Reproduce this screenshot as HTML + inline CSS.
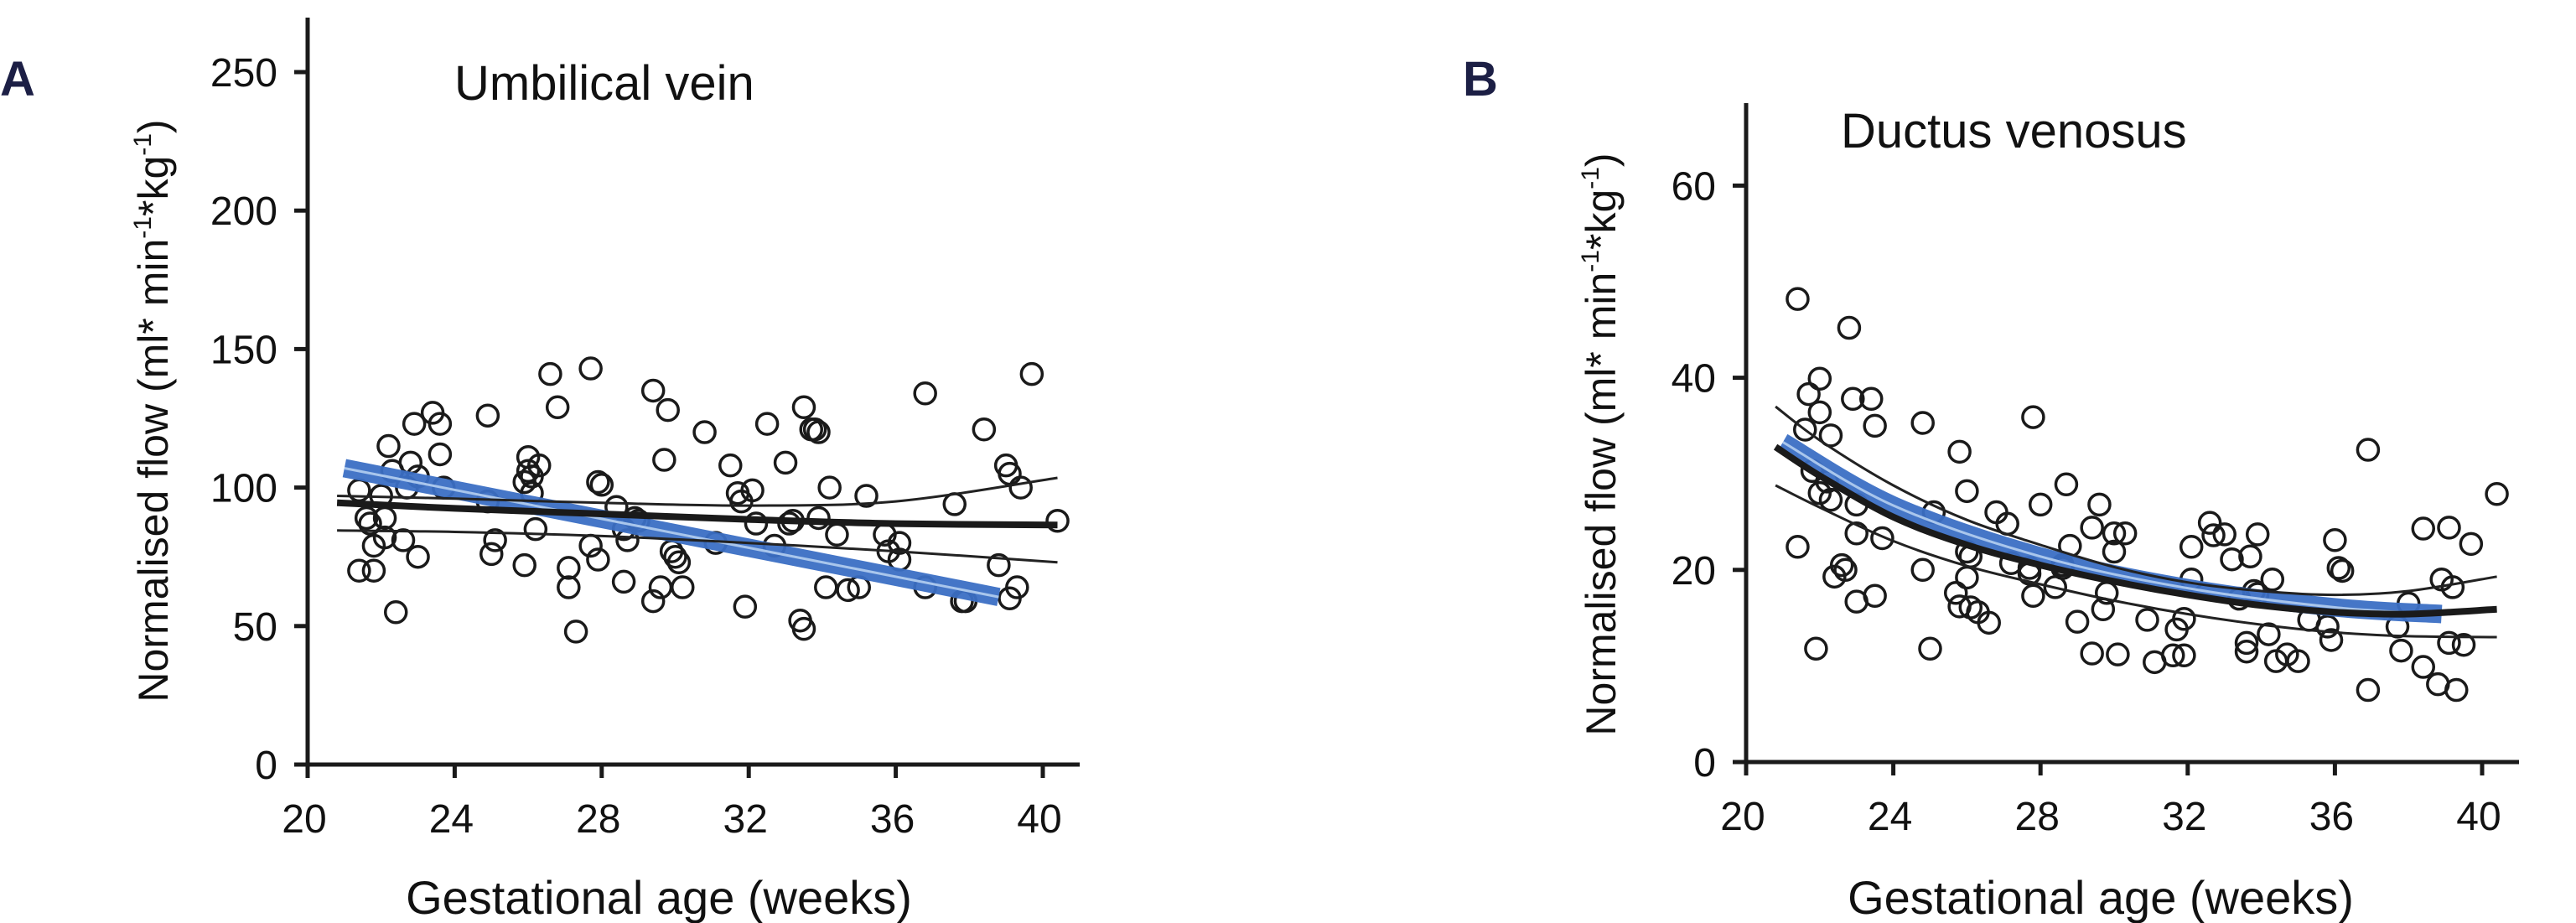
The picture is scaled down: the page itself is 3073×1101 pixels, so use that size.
<!DOCTYPE html>
<html><head><meta charset="utf-8"><style>
html,body{margin:0;padding:0;background:#fff;}
svg{display:block;font-family:"Liberation Sans",sans-serif;}
</style></head><body>
<svg id="fig" width="3073" height="1101" viewBox="0 0 3073 1101" xmlns="http://www.w3.org/2000/svg">
<rect width="3073" height="1101" fill="#fff"/>
<text x="0" y="114" font-size="58" font-weight="bold" fill="#1c1f45">A</text>
<text x="1745" y="114" font-size="58" font-weight="bold" fill="#1c1f45">B</text>
<text x="542" y="119" font-size="58" fill="#111">Umbilical vein</text>
<text x="2196" y="176" font-size="58" fill="#111">Ductus venosus</text>
<text x="786" y="1090" font-size="56" text-anchor="middle" fill="#111">Gestational age (weeks)</text>
<text x="2506" y="1090" font-size="56" text-anchor="middle" fill="#111">Gestational age (weeks)</text>
<text transform="translate(200,490) rotate(-90)" font-size="50" text-anchor="middle" fill="#111">Normalised flow (ml* min<tspan font-size="30" dy="-20">-1</tspan><tspan dy="20">*kg</tspan><tspan font-size="30" dy="-20">-1</tspan><tspan dy="20">)</tspan></text>
<text transform="translate(1927,530) rotate(-90)" font-size="50" text-anchor="middle" fill="#111">Normalised flow (ml* min<tspan font-size="30" dy="-20">-1</tspan><tspan dy="20">*kg</tspan><tspan font-size="30" dy="-20">-1</tspan><tspan dy="20">)</tspan></text>
<g id="ga"></g>
<g id="gb"></g>
</svg>
<script>
// Chart A data
const aXTicks = [20, 24, 28, 32, 36, 40];
const aYTicks = [0, 50, 100, 150, 200, 250];
const aWeeks = [21.4,21.4,21.8,21.6,21.7,22.0,22.1,21.8,22.1,22.2,22.3,22.4,22.6,22.7,22.8,22.9,23.0,23.0,23.4,23.6,23.6,23.7,24.9,24.9,25.0,25.1,25.9,25.9,26.0,26.0,26.1,26.1,26.2,26.3,26.6,26.8,27.1,27.1,27.3,27.7,27.7,27.9,27.9,28.0,28.4,28.6,28.6,28.7,28.9,29.0,29.4,29.4,29.6,29.7,29.8,29.9,30.0,30.1,30.2,30.8,31.1,31.5,31.7,31.8,31.9,32.1,32.2,32.5,32.7,33.0,33.1,33.2,33.4,33.5,33.5,33.7,33.8,33.9,33.9,34.1,34.2,34.4,34.7,35.0,35.2,35.7,35.8,36.1,36.1,36.8,36.8,37.6,37.8,37.9,38.4,38.8,39.0,39.1,39.1,39.3,39.4,39.7,40.4];
const aFlow = [99,70,70,89,87,97,89,79,82,115,106,55,81,100,109,123,104,75,127,123,112,100,126,95,76,81,72,102,111,106,104,98,85,108,141,129,71,64,48,143,79,74,102,101,93,66,85,81,89,88,135,59,64,110,128,77,75,73,64,120,80,108,98,95,57,99,87,123,79,109,87,88,52,49,129,121,121,120,89,64,100,83,63,64,97,83,77,74,80,134,64,94,59,59,121,72,108,105,60,64,100,141,88];
const aFitWeeks = [20.8, 24, 28, 32, 36, 40.4];
const aMean = [94.5, 92.5, 90.5, 88.5, 87, 86.5];
const aUpper = [97, 96, 94.5, 93.5, 95, 103.5];
const aLower = [84.5, 84, 82.5, 80, 77, 73];
const aBlueWeeks = [21, 38.8];
const aBlue = [107, 60.5];

// Chart B data
const bXTicks = [20, 24, 28, 32, 36, 40];
const bYTicks = [0, 20, 40, 60];
const bWeeks = [21.4,21.4,21.6,21.7,21.8,21.9,22.0,22.0,22.0,22.2,22.3,22.3,22.4,22.6,22.7,22.8,22.9,23.0,23.0,23.0,23.4,23.5,23.5,23.7,24.8,24.8,25.0,25.1,25.7,25.8,25.8,26.0,26.0,26.0,26.1,26.1,26.3,26.6,26.8,27.1,27.2,27.7,27.7,27.8,27.8,28.0,28.4,28.6,28.6,28.7,28.8,29.0,29.4,29.4,29.6,29.7,29.8,30.0,30.0,30.1,30.3,30.9,31.1,31.6,31.7,31.9,31.9,32.1,32.1,32.6,32.7,33.0,33.2,33.4,33.6,33.6,33.7,33.8,33.9,33.9,34.2,34.3,34.4,34.7,35.0,35.3,35.8,35.9,36.0,36.1,36.2,36.9,36.9,37.7,37.8,38.0,38.4,38.4,38.8,38.9,39.1,39.2,39.1,39.3,39.5,39.7,40.4];
const bFlow = [48.2,22.4,34.6,38.3,30.3,11.8,39.9,36.4,28.0,29.2,34.0,27.3,19.3,20.5,20.0,45.2,37.8,26.8,23.8,16.7,37.8,35.0,17.3,23.3,35.3,20.0,11.8,26.0,17.6,16.2,32.3,28.2,21.9,19.2,16.1,21.4,15.6,14.5,26.0,24.8,20.7,19.6,20.2,35.9,17.3,26.8,18.2,20.5,20.2,28.9,22.5,14.6,24.4,11.3,26.8,15.9,17.6,21.9,23.8,11.2,23.8,14.8,10.4,11.1,13.8,11.1,14.9,22.4,19.0,24.9,23.6,23.7,21.1,17.0,11.5,12.4,21.4,17.8,23.7,17.5,13.3,19.0,10.5,11.2,10.5,14.8,14.1,12.7,23.1,20.2,19.9,32.5,7.5,14.1,11.6,16.5,9.9,24.3,8.1,19.0,24.4,18.2,12.4,7.5,12.2,22.7,27.9];
const bFitWeeks = [20.8, 22, 24, 26, 28, 30, 32, 34, 36, 38, 40.4];
const bMean = [32.8, 29.8, 25.5, 22.6, 20.5, 18.8, 17.4, 16.3, 15.6, 15.4, 15.9];
const bUpper = [37, 33.5, 28.8, 25.2, 22.6, 20.3, 18.7, 17.8, 17.4, 17.8, 19.3];
const bLower = [28.8, 26.5, 23, 20.4, 18.5, 16.8, 15.4, 14.3, 13.5, 13.1, 13.0];
const bBlueWeeks = [21, 24, 28, 32, 36, 38.9];
const bBlue = [33.3, 26.7, 21.4, 18.1, 16.1, 15.4];

const NS = "http://www.w3.org/2000/svg";
function mk(parent, tag, attrs) {
  const el = document.createElementNS(NS, tag);
  for (const k in attrs) el.setAttribute(k, attrs[k]);
  parent.appendChild(el);
  return el;
}
// smooth Catmull-Rom path through points
function pathFrom(xs, ys, sx, sy) {
  const p = xs.map((w, i) => [sx(w), sy(ys[i])]);
  if (p.length < 3) return "M" + p[0].join(",") + " L" + p[1].join(",");
  let d = "M" + p[0][0].toFixed(1) + "," + p[0][1].toFixed(1);
  for (let i = 0; i < p.length - 1; i++) {
    const p0 = p[i - 1] || p[i], p1 = p[i], p2 = p[i + 1], p3 = p[i + 2] || p2;
    const c1 = [p1[0] + (p2[0] - p0[0]) / 6, p1[1] + (p2[1] - p0[1]) / 6];
    const c2 = [p2[0] - (p3[0] - p1[0]) / 6, p2[1] - (p3[1] - p1[1]) / 6];
    d += " C" + c1[0].toFixed(1) + "," + c1[1].toFixed(1) + " " + c2[0].toFixed(1) + "," + c2[1].toFixed(1) + " " + p2[0].toFixed(1) + "," + p2[1].toFixed(1);
  }
  return d;
}

function drawChart(g, cfg) {
  const { sx, sy, x0, x1, yTop, yBot, xTicks, yTicks, weeks, flow, fitW, mean, upper, lower, blueW, blue, prefix } = cfg;
  let el = mk(g, "line", { x1: x0, y1: yTop, x2: x0, y2: yBot + 16, stroke: "#1a1a1a", "stroke-width": 5 });
  
  
  el = mk(g, "line", { x1: x0 - 16, y1: yBot, x2: x1, y2: yBot, stroke: "#1a1a1a", "stroke-width": 5 });
  
  
  xTicks.forEach(t => {
    const tk = mk(g, "line", { x1: sx(t), y1: yBot, x2: sx(t), y2: yBot + 16, stroke: "#1a1a1a", "stroke-width": 5 });
    
    
    const tl = mk(g, "text", { x: sx(t) - 4, y: yBot + 81, "font-size": 48, "text-anchor": "middle", fill: "#111" });
    tl.textContent = t;
    
    
  });
  yTicks.forEach(t => {
    if (t > 0) {
      const tk = mk(g, "line", { x1: x0 - 16, y1: sy(t), x2: x0, y2: sy(t), stroke: "#1a1a1a", "stroke-width": 5 });
      
      
    }
    const tl = mk(g, "text", { x: x0 - 36, y: sy(t) + 17, "font-size": 48, "text-anchor": "end", fill: "#111" });
    tl.textContent = t;
    
    
  });
  weeks.forEach((w, i) => {
    const c = mk(g, "circle", { cx: sx(w), cy: sy(flow[i]), r: 12.5, fill: "none", stroke: "#1a1a1a", "stroke-width": 3.5 });
    
    
  });
  const bd = pathFrom(blueW, blue, sx, sy);
  el = mk(g, "path", { d: bd, fill: "none", stroke: "#3b6fc4", "stroke-width": 22, opacity: 0.95 });
  
  
  el = mk(g, "path", { d: bd, fill: "none", stroke: "#a9c6ec", "stroke-width": 3 });
  
  
  el = mk(g, "path", { d: pathFrom(fitW, upper, sx, sy), fill: "none", stroke: "#222", "stroke-width": 3 });
  
  
  el = mk(g, "path", { d: pathFrom(fitW, lower, sx, sy), fill: "none", stroke: "#222", "stroke-width": 3 });
  
  
  el = mk(g, "path", { d: pathFrom(fitW, mean, sx, sy), fill: "none", stroke: "#1a1a1a", "stroke-width": 8 });
  
  
}

const ga = document.getElementById("ga");


drawChart(ga, {
  sx: w => 367 + (w - 20) * 43.85,
  sy: v => 912 - v * 3.304,
  x0: 367, x1: 1288, yTop: 21, yBot: 912,
  xTicks: aXTicks, yTicks: aYTicks, weeks: aWeeks, flow: aFlow,
  fitW: aFitWeeks, mean: aMean, upper: aUpper, lower: aLower,
  blueW: aBlueWeeks, blue: aBlue, prefix: "chart-a"
});
const gb = document.getElementById("gb");


drawChart(gb, {
  sx: w => 2083 + (w - 20) * 43.9,
  sy: v => 909 - v * 11.46,
  x0: 2083, x1: 3005, yTop: 123, yBot: 909,
  xTicks: bXTicks, yTicks: bYTicks, weeks: bWeeks, flow: bFlow,
  fitW: bFitWeeks, mean: bMean, upper: bUpper, lower: bLower,
  blueW: bBlueWeeks, blue: bBlue, prefix: "chart-b"
});
</script>
</body></html>
